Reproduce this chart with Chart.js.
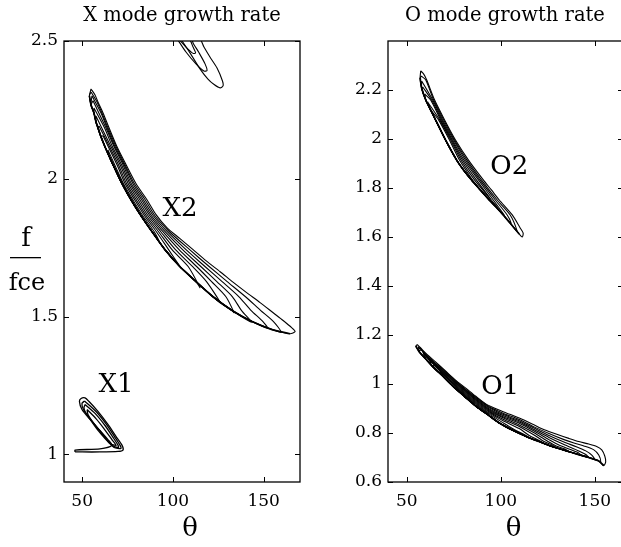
<!DOCTYPE html>
<html>
<head>
<meta charset="utf-8">
<script src="https://cdn.jsdelivr.net/npm/chart.js@4.4.1/dist/chart.umd.min.js"></script>
<style>
  html, body { margin: 0; padding: 0; background: #fff; overflow: hidden; }
  #wrap { position: relative; width: 621px; height: 547px; overflow: hidden; background: #fff; }
  #cx { position: absolute; left: 0; top: 0; }
  #co { position: absolute; left: 310px; top: 0; }
</style>
</head>
<body>
<div id="wrap">
  <canvas id="cx" width="310" height="547"></canvas>
  <canvas id="co" width="330" height="547"></canvas>
</div>
<script>
// ---------- tick values ----------
const THETA_TICKS = [50, 100, 150];
const X_FREQ_TICKS = [1, 1.5, 2, 2.5];
const O_FREQ_TICKS = [0.6, 0.8, 1, 1.2, 1.4, 1.6, 1.8, 2, 2.2];

// ---------- X mode growth-rate contours, points are [theta, f/fce] ----------
// patch cut off by the top of the panel (closed loops)
const X3_LOOPS = [
  [[102.8,2.522],[109.4,2.457],[114.9,2.399],[119.3,2.362],[122.7,2.342],[126.0,2.330],[127.6,2.337],[127.3,2.355],[124.3,2.402],[120.4,2.442],[117.1,2.478],[114.4,2.511]],
  [[101.7,2.514],[107.2,2.460],[112.7,2.417],[117.1,2.391],[118.8,2.393],[117.7,2.417],[114.4,2.457],[111.1,2.493],[110.0,2.511]],
  [[102.3,2.514],[107.2,2.478],[111.1,2.455],[112.5,2.457],[111.1,2.478],[108.9,2.507]]
];

// X2 band: shared lower edge and the upper side of each level (right tip -> top tip)
const X2_LOWER = [[54.0,2.301],[54.9,2.268],[56.5,2.239],[57.6,2.207],[58.7,2.185],[60.4,2.152],[62.6,2.116],[64.8,2.083],[67.0,2.051],[72.0,1.982],[76.9,1.924],[82.4,1.866],[88.5,1.808],[95.6,1.743],[103.9,1.681],[112.7,1.627],[122.1,1.572],[132.6,1.522],[143.6,1.482],[154.6,1.453],[164.5,1.438]];
const X2_UPPER = [
  [[167.3,1.446],[165.4,1.460],[160.7,1.486],[155.4,1.513],[148.0,1.551],[140.6,1.587],[133.1,1.625],[126.0,1.663],[118.2,1.703],[111.1,1.743],[103.9,1.783],[96.8,1.822],[90.7,1.870],[85.7,1.924],[79.7,1.982],[74.2,2.051],[69.2,2.116],[64.8,2.185],[61.5,2.239],[58.7,2.279],[57.1,2.304],[54.9,2.326]],
  [[159.6,1.444],[155.4,1.482],[148.4,1.522],[140.0,1.572],[129.9,1.627],[120.1,1.681],[109.2,1.743],[98.1,1.808],[90.1,1.866],[84.7,1.924],[78.8,1.982],[73.6,2.051],[68.7,2.116],[64.2,2.185],[60.9,2.239],[58.2,2.279],[54.9,2.315]],
  [[152.1,1.458],[149.6,1.482],[143.1,1.522],[136.4,1.572],[127.1,1.627],[117.8,1.681],[107.2,1.743],[96.9,1.808],[89.2,1.866],[83.7,1.924],[78.0,1.982],[73.1,2.051],[68.1,2.116],[63.7,2.185],[60.4,2.239],[55.4,2.301]],
  [[143.3,1.480],[137.8,1.522],[132.8,1.572],[124.2,1.627],[115.5,1.681],[105.3,1.743],[95.7,1.808],[88.2,1.866],[82.8,1.924],[77.1,1.982],[72.5,2.051],[67.6,2.116],[63.1,2.185],[56.0,2.283]],
  [[133.7,1.514],[129.2,1.572],[121.3,1.627],[113.2,1.681],[103.4,1.743],[94.5,1.808],[87.3,1.866],[81.8,1.924],[76.3,1.982],[71.7,2.051],[66.7,2.116],[62.3,2.185],[56.5,2.257]],
  [[126.0,1.551],[118.5,1.627],[110.9,1.681],[101.4,1.743],[93.3,1.808],[86.3,1.866],[80.8,1.924],[75.4,1.982],[70.9,2.051],[65.9,2.116],[57.6,2.228]],
  [[114.9,1.605],[108.5,1.681],[99.5,1.743],[92.1,1.808],[85.3,1.866],[79.8,1.924],[74.5,1.982],[70.0,2.051],[65.1,2.116],[59.3,2.192]],
  [[104.5,1.676],[97.6,1.743],[90.9,1.808],[84.4,1.866],[78.9,1.924],[73.7,1.982],[69.2,2.051],[61.5,2.156]],
  [[92.3,1.775],[89.7,1.808],[83.4,1.866],[77.9,1.924],[72.8,1.982],[64.2,2.105]]
];

// X1 patch near the gyrofrequency (closed loops)
const X1_LOOPS = [
  [[46.1,1.009],[59.8,1.009],[69.8,1.011],[72.5,1.016],[72.0,1.033],[68.7,1.065],[64.2,1.109],[58.7,1.156],[53.8,1.192],[51.6,1.205],[49.4,1.203],[48.5,1.192],[49.9,1.163],[54.3,1.127],[59.8,1.087],[64.2,1.054],[66.4,1.033],[59.8,1.020],[46.1,1.016]],
  [[51.3,1.194],[57.9,1.154],[63.4,1.109],[67.8,1.065],[70.9,1.033],[71.4,1.022],[67.6,1.025],[63.7,1.054],[59.3,1.089],[54.9,1.125],[50.7,1.163],[49.9,1.185]],
  [[51.6,1.181],[57.1,1.149],[62.6,1.105],[67.0,1.062],[69.8,1.033],[70.0,1.025],[66.4,1.033],[62.6,1.058],[58.2,1.092],[54.9,1.123],[51.6,1.156],[51.0,1.170]],
  [[52.7,1.163],[57.6,1.130],[62.0,1.094],[66.4,1.054],[68.7,1.033],[65.3,1.040],[60.9,1.076],[56.5,1.112],[53.2,1.145]]
];

// ---------- O mode growth-rate contours ----------
const O2_LOWER = [[57.1,2.249],[57.9,2.208],[60.1,2.159],[62.7,2.118],[65.3,2.078],[70.6,1.996],[76.5,1.914],[80.2,1.873],[84.4,1.833],[89.1,1.792],[93.9,1.751],[97.6,1.722],[101.3,1.690],[104.5,1.661],[107.1,1.637],[109.8,1.612]];
const O2_UPPER = [
  [[111.4,1.600],[111.9,1.616],[110.3,1.637],[106.1,1.690],[99.2,1.751],[95.0,1.792],[90.7,1.833],[82.8,1.914],[75.9,1.996],[70.1,2.078],[64.8,2.159],[60.6,2.241],[59.0,2.265],[57.4,2.278]],
  [[108.7,1.624],[105.0,1.690],[98.1,1.751],[89.7,1.833],[82.0,1.914],[75.4,1.996],[69.6,2.078],[64.3,2.159],[60.1,2.241],[57.7,2.257]],
  [[105.5,1.657],[103.4,1.690],[97.1,1.751],[88.9,1.833],[81.2,1.914],[74.9,1.996],[69.0,2.078],[63.8,2.159],[57.9,2.237]],
  [[101.8,1.690],[96.0,1.751],[88.1,1.833],[80.4,1.914],[74.3,1.996],[68.5,2.078],[63.2,2.159],[58.5,2.212]],
  [[98.1,1.722],[95.0,1.751],[87.0,1.833],[79.6,1.914],[73.8,1.996],[68.0,2.078],[62.7,2.159],[59.5,2.184]],
  [[94.4,1.755],[86.0,1.833],[78.8,1.914],[73.3,1.996],[67.5,2.078],[61.1,2.151]],
  [[87.6,1.804],[84.9,1.833],[78.0,1.914],[72.7,1.996],[66.9,2.078],[63.2,2.114]]
];

const O1_LOWER = [[54.8,1.155],[56.3,1.135],[60.1,1.102],[63.8,1.071],[69.0,1.033],[74.3,0.992],[80.7,0.949],[87.0,0.908],[93.4,0.873],[99.2,0.841],[106.1,0.812],[113.5,0.786],[120.4,0.765],[127.2,0.745],[134.1,0.729],[140.5,0.714],[146.8,0.700],[152.1,0.686],[154.7,0.667]];
const O1_UPPER = [
  [[155.8,0.682],[155.3,0.706],[153.7,0.731],[151.0,0.745],[146.8,0.755],[141.5,0.765],[136.2,0.778],[130.9,0.792],[123.5,0.812],[116.7,0.837],[109.8,0.861],[102.9,0.882],[97.1,0.900],[91.8,0.920],[86.5,0.951],[81.2,0.984],[75.9,1.016],[70.6,1.053],[65.3,1.090],[60.6,1.122],[57.4,1.147],[55.6,1.161]],
  [[153.2,0.682],[152.1,0.710],[149.5,0.731],[144.2,0.747],[138.9,0.759],[133.6,0.773],[125.6,0.798],[117.7,0.825],[109.8,0.855],[101.8,0.879],[93.9,0.907],[86.0,0.950],[78.0,0.999],[70.1,1.053],[62.2,1.106],[56.1,1.153]],
  [[150.0,0.691],[148.4,0.710],[145.2,0.727],[140.5,0.743],[133.6,0.763],[125.6,0.790],[117.7,0.820],[109.8,0.850],[101.8,0.874],[93.9,0.903],[86.0,0.946],[78.0,0.996],[70.1,1.049],[62.2,1.103],[56.9,1.147]],
  [[146.8,0.699],[145.2,0.712],[141.5,0.727],[133.6,0.753],[125.6,0.782],[117.7,0.814],[109.8,0.845],[101.8,0.869],[93.9,0.898],[86.0,0.942],[78.0,0.992],[70.1,1.046],[62.2,1.100],[57.7,1.139]],
  [[143.1,0.707],[141.0,0.720],[136.2,0.735],[130.9,0.751],[125.6,0.773],[117.7,0.808],[109.8,0.840],[101.8,0.864],[93.9,0.894],[86.0,0.938],[78.0,0.988],[70.1,1.042],[62.2,1.096],[58.5,1.131]],
  [[136.8,0.722],[134.1,0.735],[129.4,0.747],[125.6,0.763],[117.7,0.801],[109.8,0.833],[101.8,0.860],[93.9,0.890],[86.0,0.933],[78.0,0.984],[70.1,1.038],[60.1,1.114]],
  [[129.9,0.739],[127.2,0.751],[123.0,0.765],[117.7,0.792],[109.8,0.827],[101.8,0.854],[93.9,0.886],[86.0,0.929],[78.0,0.980],[70.1,1.035],[61.6,1.102]],
  [[123.0,0.757],[120.4,0.769],[115.1,0.790],[109.8,0.818],[101.8,0.848],[93.9,0.881],[86.0,0.925],[78.0,0.976],[64.3,1.078]],
  [[115.1,0.780],[112.4,0.794],[107.1,0.814],[101.8,0.839],[93.9,0.877],[86.0,0.921],[78.0,0.973],[67.5,1.053]]
];

// band names, anchored in data coordinates
const X_NAMES = [{ text: 'X2', at: [103.9, 1.888] }, { text: 'X1', at: [68.7, 1.25] }];
const O_NAMES = [{ text: 'O2', at: [104.5, 1.886] }, { text: 'O1', at: [99.7, 0.988] }];

// ---------- helpers ----------
const FONT = "'DejaVu Serif', 'Liberation Serif', serif";

// closed loop from the shared lower edge and one upper side (tip ... top)
function bandLoop(lower, upper) {
  const tip = upper[0], top = upper[upper.length - 1];
  const seg = lower.filter(p => p[0] < tip[0] && p[1] < top[1]);
  return [top, ...seg, ...upper];
}
function closed(loop) { return [...loop, loop[0]]; }
function toXY(pts) { return pts.map(p => ({ x: p[0], y: p[1] })); }

function lineSet(pts, width) {
  return {
    data: toXY(pts), showLine: true, pointRadius: 0, pointHoverRadius: 0,
    borderColor: '#000', backgroundColor: '#000', borderWidth: width,
    tension: 0.25, clip: 0, fill: false
  };
}

// frame, inward ticks on all four sides, and texts
const decor = {
  id: 'decor',
  afterDraw(chart, args, o) {
    const { ctx, chartArea: a, scales: { x, y } } = chart;
    ctx.save();
    ctx.strokeStyle = '#000';
    ctx.lineWidth = 1.3;
    ctx.strokeRect(a.left, a.top, a.right - a.left, a.bottom - a.top);
    ctx.lineWidth = 1;
    ctx.beginPath();
    const L = 5;
    x.ticks.forEach(t => {
      const px = Math.round(x.getPixelForValue(t.value)) + 0.5;
      ctx.moveTo(px, a.bottom); ctx.lineTo(px, a.bottom - L);
      ctx.moveTo(px, a.top); ctx.lineTo(px, a.top + L);
    });
    y.ticks.forEach(t => {
      const py = Math.round(y.getPixelForValue(t.value)) + 0.5;
      ctx.moveTo(a.left, py); ctx.lineTo(a.left + L, py);
      ctx.moveTo(a.right, py); ctx.lineTo(a.right - L, py);
    });
    ctx.stroke();

    ctx.fillStyle = '#000';
    ctx.textAlign = 'center';
    ctx.textBaseline = 'middle';
    // band names
    ctx.font = '26px ' + FONT;
    o.names.forEach(n => ctx.fillText(n.text, x.getPixelForValue(n.at[0]), y.getPixelForValue(n.at[1])));
    // title
    ctx.font = '19.5px ' + FONT;
    ctx.fillText(o.title, o.titleX, 16);
    // theta under the axis
    ctx.font = '26px ' + FONT;
    ctx.fillText('\u03b8', (a.left + a.right) / 2 + 8, 529);
    // ratio label on the left axis
    if (o.ratio) {
      ctx.font = '26px ' + FONT;
      ctx.fillText('f', 26, 239);
      ctx.fillRect(10, 257, 31, 1.3);
      ctx.font = '24px ' + FONT;
      ctx.fillText('fce', 27, 284);
    }
    ctx.restore();
  }
};

function axes(xmin, xmax, ymin, ymax, yTicks, yWidth) {
  const tickFont = { family: FONT, size: 17 };
  return {
    x: {
      type: 'linear', min: xmin, max: xmax,
      grid: { display: false, drawTicks: false }, border: { display: false },
      ticks: { font: tickFont, color: '#000', padding: 9, maxRotation: 0, autoSkip: false, callback: v => String(v) },
      afterBuildTicks: s => { s.ticks = THETA_TICKS.map(v => ({ value: v })); },
      afterFit: s => { s.height = 65; }
    },
    y: {
      type: 'linear', min: ymin, max: ymax,
      grid: { display: false, drawTicks: false }, border: { display: false },
      ticks: { font: tickFont, color: '#000', padding: 6, autoSkip: false, callback: v => String(v) },
      afterBuildTicks: s => { s.ticks = yTicks.map(v => ({ value: v })); },
      afterFit: s => { s.width = yWidth; }
    }
  };
}

function makeChart(id, datasets, scales, padRight, decorOpts) {
  return new Chart(document.getElementById(id), {
    type: 'scatter',
    data: { datasets },
    options: {
      responsive: false, animation: false, events: [],
      layout: { padding: { top: 41, right: padRight, left: 0, bottom: 0 } },
      scales,
      plugins: { legend: { display: false }, tooltip: { enabled: false }, decor: decorOpts }
    },
    plugins: [decor]
  });
}

// ---------- X mode panel ----------
const xSets = [];
X3_LOOPS.forEach(l => xSets.push(lineSet(closed(l), 1.1)));
X2_UPPER.forEach(u => xSets.push(lineSet(bandLoop(X2_LOWER, u), 1.1)));
xSets.push(lineSet(X2_LOWER, 1.7));
X1_LOOPS.forEach(l => xSets.push(lineSet(closed(l), 1.3)));
makeChart('cx', xSets, axes(40, 170, 0.9, 2.5, X_FREQ_TICKS, 64), 10,
  { names: X_NAMES, title: 'X mode growth rate', titleX: 182, ratio: true });

// ---------- O mode panel ----------
const oSets = [];
O2_UPPER.forEach(u => oSets.push(lineSet(bandLoop(O2_LOWER, u), 1.1)));
oSets.push(lineSet(O2_LOWER, 1.7));
O1_UPPER.forEach(u => oSets.push(lineSet(bandLoop(O1_LOWER, u), 1.1)));
oSets.push(lineSet(O1_LOWER, 1.7));
makeChart('co', oSets, axes(40, 165, 0.6, 2.4, O_FREQ_TICKS, 78), 17,
  { names: O_NAMES, title: 'O mode growth rate', titleX: 195, ratio: false });
</script>
</body>
</html>
